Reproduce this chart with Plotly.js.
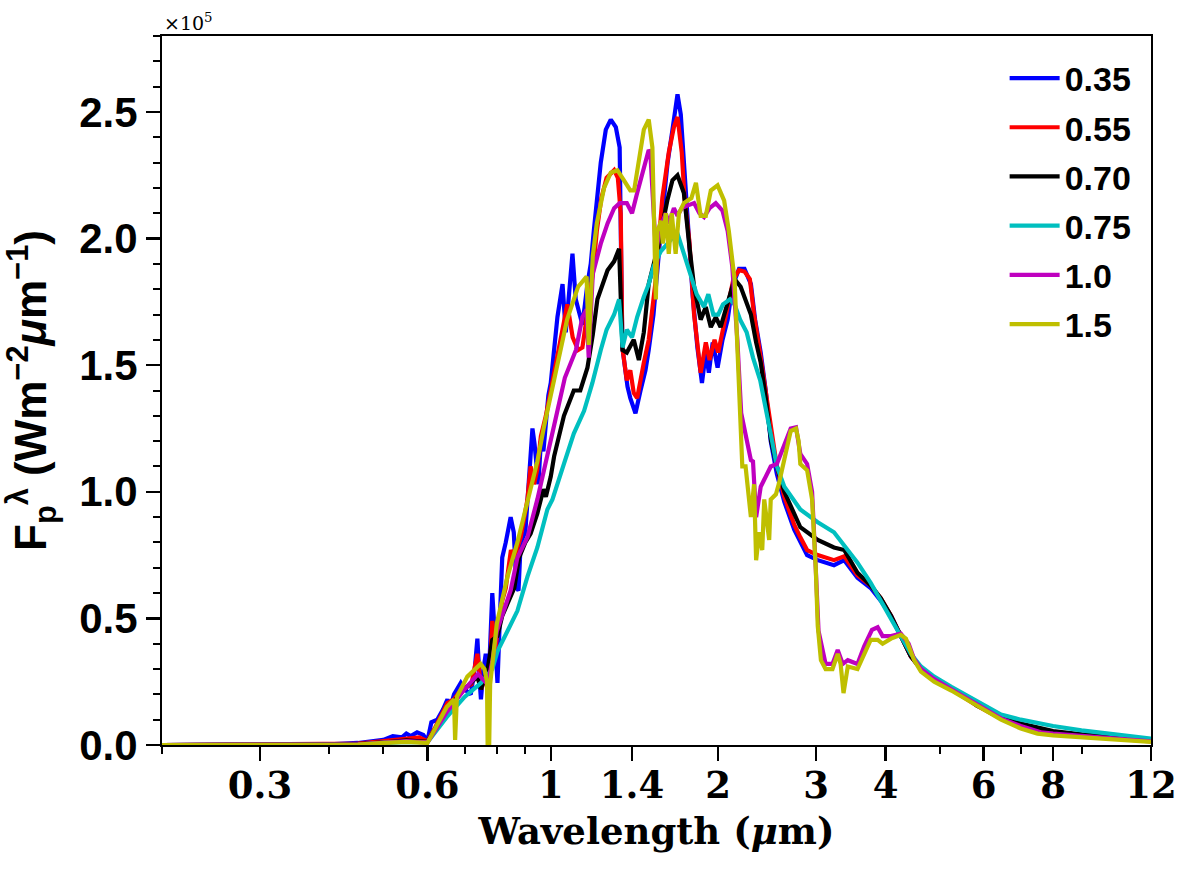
<!DOCTYPE html>
<html>
<head>
<meta charset="utf-8">
<script src="https://cdn.plot.ly/plotly-3.0.1.min.js"></script>
<style>
  body { margin: 0; background: white; }
  #spectrum { width: 1192px; height: 871px; }
</style>
</head>
<body>
<div id="spectrum"></div>
<script>
// planet flux per wavelength, in units of 1e5 W m^-2 um^-1
var wave035 = [0.2, 0.3, 0.4, 0.45, 0.5, 0.52, 0.54, 0.55, 0.56, 0.575,
  0.59, 0.6, 0.61, 0.625, 0.64, 0.652, 0.66, 0.67, 0.689, 0.70,
  0.718, 0.73, 0.738, 0.745, 0.749, 0.757, 0.764, 0.775, 0.785, 0.795,
  0.802, 0.81, 0.818, 0.83, 0.847, 0.858, 0.868, 0.875, 0.883, 0.9,
  0.908, 0.92, 0.927, 0.935, 0.94, 0.95, 0.96, 0.97, 0.99, 1.0,
  1.028, 1.05, 1.064, 1.075, 1.094, 1.109, 1.14, 1.164, 1.18, 1.195,
  1.21, 1.23, 1.256, 1.282, 1.309, 1.33, 1.345, 1.36, 1.374, 1.39,
  1.42, 1.45, 1.48, 1.50, 1.53, 1.577, 1.622, 1.655, 1.69, 1.713,
  1.735, 1.77, 1.80, 1.835, 1.87, 1.90, 1.924, 1.955, 1.995, 2.036,
  2.08, 2.12, 2.18, 2.23, 2.29, 2.33, 2.385, 2.435, 2.486, 2.55,
  2.63, 2.74, 2.81, 2.89, 3.02, 3.15, 3.23, 3.37, 3.56, 3.76,
  3.92, 4.09, 4.26, 4.44, 4.63, 4.89, 5.25, 5.6, 5.84, 6.19,
  6.45, 7, 8, 9, 10, 12];
var flux035 = [0, 0, 0.003, 0.008, 0.02, 0.035, 0.03, 0.045, 0.035, 0.05,
  0.04, 0.015, 0.09, 0.1, 0.14, 0.18, 0.15, 0.2, 0.245, 0.22,
  0.2, 0.3, 0.42, 0.25, 0.18, 0.3, 0.36, 0.3, 0.6, 0.4,
  0.245, 0.5, 0.74, 0.8, 0.9, 0.84, 0.62, 0.61, 0.8, 0.84,
  0.97, 1.12, 1.25, 1.19, 1.14, 1.03, 1.2, 1.16, 1.38, 1.43,
  1.69, 1.82, 1.63, 1.75, 1.94, 1.76, 1.66, 1.82, 1.9, 2.03,
  2.15, 2.30, 2.43, 2.47, 2.44, 2.36, 1.57, 1.50, 1.415, 1.37,
  1.31, 1.40, 1.48, 1.56, 1.70, 2.03, 2.30, 2.43, 2.57, 2.49,
  2.30, 2.03, 1.77, 1.57, 1.43, 1.55, 1.47, 1.59, 1.49, 1.60,
  1.68, 1.81, 1.88, 1.88, 1.82, 1.68, 1.55, 1.40, 1.2, 1.07,
  0.96, 0.85, 0.80, 0.75, 0.73, 0.72, 0.71, 0.73, 0.66, 0.62,
  0.57, 0.51, 0.43, 0.35, 0.30, 0.26, 0.22, 0.185, 0.158, 0.13,
  0.105, 0.08, 0.05, 0.04, 0.03, 0.015];

var wave055 = [0.2, 0.4, 0.45, 0.5, 0.55, 0.58, 0.6, 0.62, 0.652, 0.67,
  0.69, 0.72, 0.738, 0.75, 0.765, 0.775, 0.785, 0.795, 0.805, 0.818,
  0.83, 0.848, 0.86, 0.87, 0.883, 0.908, 0.92, 0.933, 0.945, 0.96,
  0.98, 1.0, 1.028, 1.05, 1.071, 1.095, 1.12, 1.14, 1.17, 1.19,
  1.21, 1.233, 1.26, 1.30, 1.32, 1.336, 1.345, 1.37, 1.39, 1.41,
  1.43, 1.45, 1.47, 1.5, 1.545, 1.587, 1.63, 1.665, 1.69, 1.72,
  1.74, 1.775, 1.81, 1.86, 1.90, 1.93, 1.97, 2.0, 2.04, 2.09,
  2.13, 2.18, 2.23, 2.28, 2.32, 2.37, 2.42, 2.48, 2.55, 2.63,
  2.74, 2.81, 2.89, 3.02, 3.15, 3.23, 3.37, 3.56, 3.76, 3.92,
  4.09, 4.26, 4.44, 4.63, 4.89, 5.25, 5.6, 5.84, 6.19, 6.45,
  7, 8, 9, 10, 12];
var flux055 = [0, 0.002, 0.006, 0.015, 0.025, 0.03, 0.015, 0.07, 0.166, 0.18,
  0.22, 0.24, 0.36, 0.22, 0.28, 0.25, 0.49, 0.38, 0.47, 0.57,
  0.62, 0.77, 0.74, 0.78, 0.82, 0.97, 1.10, 1.03, 1.085, 1.22,
  1.30, 1.40, 1.53, 1.63, 1.74, 1.61, 1.56, 1.57, 1.75, 1.86,
  2.03, 2.16, 2.24, 2.27, 2.24, 2.10, 1.57, 1.44, 1.48, 1.39,
  1.37, 1.45, 1.51, 1.60, 1.84, 2.16, 2.34, 2.44, 2.48, 2.34,
  2.16, 1.99, 1.70, 1.47, 1.59, 1.52, 1.60, 1.55, 1.64, 1.74,
  1.84, 1.875, 1.87, 1.84, 1.70, 1.57, 1.44, 1.28, 1.10, 0.98,
  0.87, 0.82, 0.77, 0.75, 0.74, 0.73, 0.745, 0.67, 0.63, 0.58,
  0.51, 0.43, 0.35, 0.30, 0.26, 0.22, 0.18, 0.155, 0.125, 0.105,
  0.08, 0.05, 0.04, 0.03, 0.015];

var wave070 = [0.2, 0.45, 0.5, 0.55, 0.6, 0.65, 0.689, 0.738, 0.749, 0.77,
  0.785, 0.802, 0.818, 0.847, 0.86, 0.877, 0.90, 0.92, 0.946, 0.97,
  0.98, 1.0, 1.014, 1.056, 1.10, 1.13, 1.164, 1.19, 1.213, 1.265,
  1.30, 1.327, 1.346, 1.37, 1.41, 1.44, 1.47, 1.50, 1.56, 1.62,
  1.655, 1.69, 1.735, 1.775, 1.81, 1.86, 1.90, 1.94, 1.98, 2.02,
  2.06, 2.10, 2.14, 2.195, 2.24, 2.29, 2.34, 2.385, 2.435, 2.49,
  2.55, 2.63, 2.81, 3.02, 3.23, 3.37, 3.56, 3.76, 3.92, 4.09,
  4.26, 4.44, 4.63, 4.89, 5.25, 5.6, 5.84, 6.19, 6.45, 7,
  8, 9, 10, 12];
var flux070 = [0, 0.004, 0.01, 0.018, 0.012, 0.138, 0.205, 0.27, 0.22, 0.3,
  0.415, 0.43, 0.51, 0.585, 0.62, 0.74, 0.80, 0.835, 0.915, 1.01,
  0.98, 1.06, 1.14, 1.30, 1.40, 1.40, 1.49, 1.62, 1.76, 1.875,
  1.91, 1.96, 1.56, 1.55, 1.60, 1.52, 1.63, 1.82, 1.97, 2.15,
  2.23, 2.25, 2.18, 1.97, 1.81, 1.68, 1.73, 1.65, 1.69, 1.65,
  1.72, 1.78, 1.84, 1.81, 1.76, 1.70, 1.59, 1.51, 1.37, 1.20,
  1.10, 1.00, 0.86, 0.81, 0.78, 0.77, 0.68, 0.63, 0.58, 0.51,
  0.43, 0.35, 0.30, 0.26, 0.22, 0.185, 0.155, 0.128, 0.11, 0.085,
  0.055, 0.042, 0.032, 0.017];

var wave075 = [0.2, 0.45, 0.5, 0.55, 0.6, 0.65, 0.70, 0.749, 0.785, 0.802,
  0.836, 0.871, 0.908, 0.946, 0.986, 1.007, 1.056, 1.10, 1.148, 1.188,
  1.23, 1.26, 1.30, 1.327, 1.346, 1.37, 1.40, 1.43, 1.47, 1.50,
  1.53, 1.577, 1.622, 1.665, 1.69, 1.735, 1.79, 1.83, 1.886, 1.92,
  1.96, 2.0, 2.04, 2.10, 2.14, 2.19, 2.25, 2.31, 2.38, 2.45,
  2.50, 2.55, 2.63, 2.81, 3.02, 3.23, 3.37, 3.56, 3.76, 3.92,
  4.14, 4.26, 4.44, 4.63, 4.89, 5.25, 5.6, 5.84, 6.19, 6.45,
  7, 8, 9, 10, 12];
var flux075 = [0, 0.002, 0.008, 0.012, 0.01, 0.11, 0.19, 0.245, 0.30, 0.37,
  0.45, 0.53, 0.665, 0.78, 0.93, 0.97, 1.11, 1.23, 1.32, 1.43,
  1.56, 1.64, 1.70, 1.76, 1.57, 1.64, 1.61, 1.69, 1.77, 1.82,
  1.89, 1.95, 1.98, 2.01, 2.02, 1.94, 1.84, 1.78, 1.73, 1.78,
  1.70, 1.70, 1.74, 1.76, 1.74, 1.68, 1.63, 1.53, 1.44, 1.31,
  1.20, 1.10, 1.02, 0.93, 0.88, 0.84, 0.79, 0.72, 0.64, 0.57,
  0.48, 0.43, 0.36, 0.31, 0.27, 0.23, 0.195, 0.17, 0.14, 0.12,
  0.1, 0.075, 0.058, 0.045, 0.025];

var wave100 = [0.2, 0.45, 0.5, 0.55, 0.6, 0.65, 0.70, 0.74, 0.77, 0.785,
  0.80, 0.847, 0.871, 0.908, 0.946, 0.98, 1.0, 1.028, 1.06, 1.11,
  1.14, 1.16, 1.17, 1.19, 1.23, 1.265, 1.30, 1.33, 1.37, 1.40,
  1.43, 1.47, 1.50, 1.51, 1.545, 1.577, 1.61, 1.63, 1.665, 1.69,
  1.72, 1.76, 1.81, 1.85, 1.886, 1.93, 1.98, 2.036, 2.08, 2.12,
  2.165, 2.20, 2.29, 2.31, 2.34, 2.385, 2.435, 2.486, 2.55, 2.63,
  2.70, 2.76, 2.81, 2.89, 2.95, 2.995, 3.03, 3.12, 3.21, 3.28,
  3.35, 3.42, 3.56, 3.66, 3.78, 3.87, 3.95, 4.09, 4.26, 4.4,
  4.5, 4.63, 4.89, 5.25, 5.6, 5.84, 6.19, 6.45, 7, 7.6,
  8, 9, 10, 12];
var flux100 = [0, 0.003, 0.01, 0.015, 0.01, 0.13, 0.22, 0.28, 0.24, 0.33,
  0.45, 0.61, 0.74, 0.82, 0.97, 1.125, 1.2, 1.32, 1.45, 1.56,
  1.69, 1.72, 1.53, 1.86, 1.98, 2.06, 2.12, 2.14, 2.14, 2.10,
  2.18, 2.27, 2.35, 2.34, 1.95, 2.05, 2.10, 2.06, 2.12, 2.09,
  2.12, 2.13, 2.14, 2.10, 2.085, 2.12, 2.14, 2.11, 2.03, 1.89,
  1.60, 1.31, 1.125, 1.12, 0.90, 1.02, 1.06, 1.10, 1.11, 1.19,
  1.25, 1.255, 1.15, 1.11, 1.0, 0.70, 0.45, 0.32, 0.32, 0.375,
  0.32, 0.335, 0.32, 0.39, 0.455, 0.465, 0.43, 0.43, 0.44, 0.40,
  0.34, 0.30, 0.26, 0.22, 0.185, 0.16, 0.13, 0.105, 0.075, 0.05,
  0.045, 0.035, 0.028, 0.014];

var wave150 = [0.2, 0.45, 0.5, 0.55, 0.6, 0.65, 0.67, 0.673, 0.678, 0.708,
  0.748, 0.76, 0.768, 0.77, 0.775, 0.778, 0.80, 0.836, 0.871, 0.908,
  0.946, 0.973, 1.014, 1.07, 1.12, 1.16, 1.17, 1.19, 1.21, 1.247,
  1.282, 1.318, 1.354, 1.39, 1.412, 1.44, 1.47, 1.50, 1.523, 1.545,
  1.555, 1.58, 1.59, 1.61, 1.63, 1.65, 1.677, 1.70, 1.735, 1.79,
  1.824, 1.86, 1.90, 1.94, 1.995, 2.05, 2.09, 2.14, 2.165, 2.195,
  2.21, 2.24, 2.29, 2.32, 2.34, 2.37, 2.40, 2.42, 2.47, 2.486,
  2.54, 2.57, 2.63, 2.70, 2.76, 2.79, 2.81, 2.89, 2.95, 2.995,
  3.02, 3.06, 3.12, 3.21, 3.28, 3.32, 3.36, 3.42, 3.56, 3.66,
  3.76, 3.87, 3.95, 4.09, 4.26, 4.35, 4.5, 4.63, 4.89, 5.25,
  5.6, 5.84, 6.19, 6.45, 7, 7.5, 8, 9, 10, 12];
var flux150 = [0, 0.002, 0.008, 0.012, 0.008, 0.15, 0.18, 0.02, 0.19, 0.27,
  0.32, 0.30, 0.25, 0.0, 0.0, 0.24, 0.48, 0.665, 0.80, 0.96,
  1.12, 1.26, 1.44, 1.68, 1.81, 1.85, 1.58, 1.93, 2.06, 2.20,
  2.26, 2.27, 2.23, 2.19, 2.19, 2.31, 2.43, 2.47, 2.36, 1.76,
  2.03, 2.07, 1.98, 2.10, 1.94, 2.10, 1.94, 2.10, 2.14, 2.16,
  2.22, 2.09, 2.09, 2.19, 2.21, 2.15, 2.03, 1.84, 1.57, 1.24,
  1.10, 1.10, 0.90, 1.03, 0.73, 0.84, 0.77, 0.97, 0.81, 0.97,
  0.99, 1.03, 1.125, 1.24, 1.25, 1.20, 1.11, 1.085, 0.97, 0.70,
  0.47, 0.335, 0.30, 0.30, 0.36, 0.32, 0.205, 0.31, 0.30, 0.36,
  0.415, 0.415, 0.40, 0.42, 0.435, 0.42, 0.335, 0.29, 0.25, 0.215,
  0.18, 0.155, 0.125, 0.10, 0.065, 0.045, 0.038, 0.03, 0.025, 0.012];

var seriesNames = ['0.35', '0.55', '0.70', '0.75', '1.0', '1.5'];
var xTickVals = [0.3, 0.6, 1, 1.4, 2, 3, 4, 6, 8, 12];
var xTickText = ['0.3', '0.6', '1', '1.4', '2', '3', '4', '6', '8', '12'];
var xMinorVals = [0.2, 0.4, 0.5, 0.7, 0.8, 0.9, 5, 7, 9];
var yTickVals = [0, 0.5, 1.0, 1.5, 2.0, 2.5];
var yTickText = ['0.0', '0.5', '1.0', '1.5', '2.0', '2.5'];

var waves = [wave035, wave055, wave070, wave075, wave100, wave150];
var fluxes = [flux035, flux055, flux070, flux075, flux100, flux150];
// matplotlib b, r, k, c, m, y
var colors = ['#0000ff', '#ff0000', '#000000', '#00bfbf', '#bf00bf', '#bfbf00'];

var traces = [];
for (var i = 0; i < waves.length; i++) {
    traces.push({
        x: waves[i],
        y: fluxes[i],
        type: 'scatter',
        mode: 'lines',
        name: seriesNames[i],
        legendgroup: 'g' + i,
        line: { color: colors[i], width: 4.2 }
    });
}

var serifBold = { family: 'DejaVu Serif', size: 37, weight: 'bold', color: 'black' };
var sansBold = { family: 'Liberation Sans', size: 42, weight: 'bold', color: 'black' };

var layout = {
    width: 1192,
    height: 871,
    margin: { l: 162, r: 41, t: 36, b: 126 },
    paper_bgcolor: 'white',
    plot_bgcolor: 'white',
    showlegend: true,
    legend: {
        x: 0.852, xanchor: 'left',
        y: 0.981, yanchor: 'top',
        itemwidth: 50,
        tracegroupgap: 2,
        bgcolor: 'rgba(0,0,0,0)',
        font: { family: 'Liberation Sans', size: 34, weight: 'bold', color: 'black' }
    },
    xaxis: {
        type: 'log',
        range: [Math.log10(0.2), Math.log10(12)],
        tickmode: 'array',
        tickvals: xTickVals,
        ticktext: xTickText,
        ticks: 'outside', ticklen: 14, tickwidth: 2.5, tickcolor: 'black',
        ticklabelstandoff: -7,
        minor: { tickmode: 'array', tickvals: xMinorVals, ticks: 'outside', ticklen: 7, tickwidth: 2, tickcolor: 'black', showgrid: false },
        showline: true, linecolor: 'black', linewidth: 2, mirror: true,
        showgrid: false, zeroline: false,
        tickfont: serifBold,
        title: { text: 'Wavelength (<i>μ</i>m)', font: serifBold, standoff: 12 }
    },
    yaxis: {
        range: [0, 2.8],
        tickmode: 'array',
        tickvals: yTickVals,
        ticktext: yTickText,
        ticks: 'outside', ticklen: 14, tickwidth: 2.5, tickcolor: 'black',
        minor: { dtick: 0.1, ticks: 'outside', ticklen: 7, tickwidth: 2, tickcolor: 'black', showgrid: false },
        showline: true, linecolor: 'black', linewidth: 2, mirror: true,
        showgrid: false, zeroline: false,
        tickfont: sansBold,
        title: {
            text: 'F<sub>p</sub><sup>λ</sup> (Wm<sup>−2</sup><i>μ</i>m<sup>−1</sup>)',
            font: { family: 'Liberation Sans', size: 44, weight: 'bold', color: 'black' },
            standoff: 20
        }
    },
    annotations: [{
        text: '×10<sup>5</sup>',
        xref: 'paper', yref: 'paper',
        x: 0, y: 1, xanchor: 'left', yanchor: 'bottom',
        showarrow: false,
        font: { family: 'DejaVu Serif', size: 19, color: 'black' }
    }]
};

Plotly.newPlot('spectrum', traces, layout, { staticPlot: true });
</script>
</body>
</html>
